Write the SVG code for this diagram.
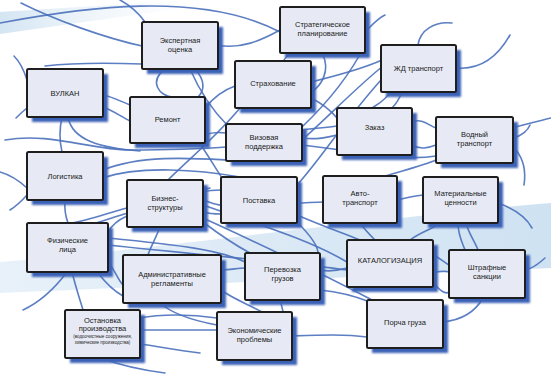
<svg xmlns="http://www.w3.org/2000/svg" width="551" height="374" viewBox="0 0 551 374">
<defs>
<linearGradient id="band" x1="0" y1="0" x2="1" y2="0">
<stop offset="0" stop-color="#e8f1f9"/>
<stop offset="1" stop-color="#cfe2f2"/>
</linearGradient>
<linearGradient id="band2" x1="0" y1="0" x2="1" y2="0">
<stop offset="0" stop-color="#d4e5f3"/>
<stop offset="1" stop-color="#ffffff" stop-opacity="0"/>
</linearGradient>
<filter id="sh" x="-10%" y="-10%" width="130%" height="130%"><feGaussianBlur stdDeviation="1.2"/></filter>
<style>
.c{fill:none;stroke:#4a70bb;stroke-width:1.6;stroke-linecap:round;opacity:0.9}
.s{fill:#3a62b6;filter:url(#sh)}
.b{fill:#e7eaf5;stroke:#1e1e1e;stroke-width:2}
.t{font-family:"Liberation Sans",Arial,sans-serif;font-size:7.5px;fill:#1a1a1a;text-anchor:middle}
.m{font-size:4.5px}
</style>
</defs>
<rect width="551" height="374" fill="#ffffff"/>
<path d="M0,12 L190,0 L240,0 L0,34 Z" fill="url(#band2)"/>
<path d="M0,262 C150,250 350,220 551,203 L551,268 C380,275 200,285 0,293 Z" fill="url(#band)"/>
<g id="connectors">
<path class="c" d="M21,3 C55,20 105,38 142,46"/>
<path class="c" d="M0,23 C80,8 200,-10 280,32"/>
<path class="c" d="M120,0 Q135,8 145,22"/>
<path class="c" d="M217,45 C240,50 262,40 280,30"/>
<path class="c" d="M45,66 C80,62 115,63 142,64"/>
<path class="c" d="M14,56 Q22,64 27,80"/>
<path class="c" d="M16,118 Q22,112 27,108"/>
<path class="c" d="M103,107 C112,110 120,116 130,121"/>
<path class="c" d="M130,105 C118,100 110,96 103,95"/>
<path class="c" d="M165,69 C148,82 160,96 172,97"/>
<path class="c" d="M195,69 C205,80 205,90 198,97"/>
<path class="c" d="M190,69 C200,92 214,112 228,126"/>
<path class="c" d="M235,86 Q218,92 205,108"/>
<path class="c" d="M284,60 C290,48 318,46 323,55 C330,70 322,86 311,92"/>
<path class="c" d="M311,82 C335,76 360,70 382,60"/>
<path class="c" d="M418,45 C420,30 435,21 452,23"/>
<path class="c" d="M456,68 C478,70 496,60 510,35"/>
<path class="c" d="M383,66 C358,86 330,115 302,140"/>
<path class="c" d="M365,32 C372,25 378,18 385,15"/>
<path class="c" d="M390,92 C386,100 378,104 372,108"/>
<path class="c" d="M402,92 Q398,102 392,108"/>
<path class="c" d="M365,45 C350,75 325,105 302,127"/>
<path class="c" d="M311,98 C325,105 332,112 337,118"/>
<path class="c" d="M513,138 C522,136 528,130 530,125"/>
<path class="c" d="M516,150 C524,160 526,172 524,185"/>
<path class="c" d="M412,122 C422,118 428,125 436,128"/>
<path class="c" d="M412,145 C420,150 428,148 436,145"/>
<path class="c" d="M385,176 C405,170 425,165 436,160"/>
<path class="c" d="M302,145 C350,150 400,162 436,156"/>
<path class="c" d="M397,200 C405,198 413,196 423,195"/>
<path class="c" d="M498,203 C512,208 525,215 532,228"/>
<path class="c" d="M458,223 C458,235 462,242 465,250"/>
<path class="c" d="M466,223 C468,232 475,242 478,250"/>
<path class="c" d="M525,270 C535,268 540,262 545,258"/>
<path class="c" d="M483,298 C475,312 462,320 443,322"/>
<path class="c" d="M433,255 C440,258 444,262 449,265"/>
<path class="c" d="M433,272 C440,272 444,270 449,272"/>
<path class="c" d="M433,283 C440,290 445,295 449,292"/>
<path class="c" d="M410,240 C420,232 435,228 440,223"/>
<path class="c" d="M360,223 C365,230 370,235 375,240"/>
<path class="c" d="M292,336 C320,335 345,334 367,337"/>
<path class="c" d="M140,330 C165,330 190,330 217,330"/>
<path class="c" d="M140,318 C160,314 190,314 217,318"/>
<path class="c" d="M127,342 C150,345 175,350 200,353"/>
<path class="c" d="M100,358 C120,365 140,370 165,373"/>
<path class="c" d="M62,117 Q58,135 62,152"/>
<path class="c" d="M5,140 C50,132 90,150 130,150 C170,150 200,149 226,147"/>
<path class="c" d="M68,117 C72,140 100,148 140,151"/>
<path class="c" d="M103,170 C140,155 190,158 226,160"/>
<path class="c" d="M103,178 C140,165 200,170 240,177"/>
<path class="c" d="M65,200 Q64,212 68,223"/>
<path class="c" d="M10,210 Q18,205 27,195"/>
<path class="c" d="M0,172 Q14,176 27,188"/>
<path class="c" d="M127,208 C108,213 88,220 72,223"/>
<path class="c" d="M127,216 C118,220 112,225 108,232"/>
<path class="c" d="M240,108 C215,138 188,160 168,180"/>
<path class="c" d="M160,227 C155,240 150,248 148,255"/>
<path class="c" d="M205,135 C212,132 218,132 226,133"/>
<path class="c" d="M302,130 C315,128 325,128 337,126"/>
<path class="c" d="M302,138 C315,140 325,138 337,135"/>
<path class="c" d="M203,192 C210,190 215,190 221,190"/>
<path class="c" d="M203,200 C210,202 215,205 221,205"/>
<path class="c" d="M203,212 C210,214 215,214 221,214"/>
<path class="c" d="M297,203 C305,203 315,202 323,202"/>
<path class="c" d="M297,185 C320,160 345,120 381,80"/>
<path class="c" d="M180,120 C200,140 210,160 222,178"/>
<path class="c" d="M203,205 C260,225 310,240 347,262"/>
<path class="c" d="M203,218 C240,235 300,262 372,300"/>
<path class="c" d="M203,222 C220,235 235,245 250,253"/>
<path class="c" d="M297,215 C320,225 340,232 360,240"/>
<path class="c" d="M297,222 C310,235 318,245 318,253"/>
<path class="c" d="M108,238 C180,245 220,250 245,262"/>
<path class="c" d="M108,245 C200,255 290,262 347,270"/>
<path class="c" d="M108,262 C115,270 118,280 123,285"/>
<path class="c" d="M67,272 C55,288 40,302 23,310"/>
<path class="c" d="M72,272 C76,288 80,300 83,310"/>
<path class="c" d="M98,273 C105,282 112,290 123,296"/>
<path class="c" d="M221,270 C230,270 238,268 245,268"/>
<path class="c" d="M221,290 C235,300 250,305 262,312"/>
<path class="c" d="M280,300 C283,310 285,320 287,330"/>
<path class="c" d="M320,270 C330,272 340,270 347,268"/>
<path class="c" d="M320,290 C340,292 355,296 370,302"/>
<path class="c" d="M160,303 C170,312 190,320 217,325"/>
<path class="c" d="M513,128 C525,124 540,121 551,118"/>
<path class="c" d="M90,225 C120,215 170,200 210,188"/>
</g>
<g id="n-ekspert"><rect class="s" x="147" y="27" width="76" height="47"/><rect class="b" x="142" y="22" width="76" height="47" rx="1.5"/><text class="t" x="180" y="43">Экспертная</text><text class="t" x="180" y="52">оценка</text></g>
<g id="n-strateg"><rect class="s" x="285" y="12" width="85" height="46"/><rect class="b" x="280" y="7" width="85" height="46" rx="1.5"/><text class="t" x="322.5" y="27">Стратегическое</text><text class="t" x="322.5" y="36">планирование</text></g>
<g id="n-zhd"><rect class="s" x="386" y="50" width="75" height="47"/><rect class="b" x="381" y="45" width="75" height="47" rx="1.5"/><text class="t" x="418.5" y="71">ЖД транспорт</text></g>
<g id="n-vulkan"><rect class="s" x="32" y="74" width="76" height="48"/><rect class="b" x="27" y="69" width="76" height="48" rx="1.5"/><text class="t" x="65" y="95.5">ВУЛКАН</text></g>
<g id="n-remont"><rect class="s" x="135" y="102" width="75" height="46"/><rect class="b" x="130" y="97" width="75" height="46" rx="1.5"/><text class="t" x="167.5" y="122">Ремонт</text></g>
<g id="n-strah"><rect class="s" x="240" y="66" width="76" height="47"/><rect class="b" x="235" y="61" width="76" height="47" rx="1.5"/><text class="t" x="273" y="86">Страхование</text></g>
<g id="n-viza"><rect class="s" x="231" y="129" width="76" height="37"/><rect class="b" x="226" y="124" width="76" height="37" rx="1.5"/><text class="t" x="264" y="140">Визовая</text><text class="t" x="264" y="149">поддержка</text></g>
<g id="n-zakaz"><rect class="s" x="342" y="113" width="75" height="47"/><rect class="b" x="337" y="108" width="75" height="47" rx="1.5"/><text class="t" x="374.5" y="130">Заказ</text></g>
<g id="n-vodn"><rect class="s" x="441" y="122" width="77" height="46"/><rect class="b" x="436" y="117" width="77" height="46" rx="1.5"/><text class="t" x="474.5" y="137">Водный</text><text class="t" x="474.5" y="146">транспорт</text></g>
<g id="n-logist"><rect class="s" x="32" y="157" width="76" height="48"/><rect class="b" x="27" y="152" width="76" height="48" rx="1.5"/><text class="t" x="65" y="178.5">Логистика</text></g>
<g id="n-biznes"><rect class="s" x="132" y="185" width="76" height="47"/><rect class="b" x="127" y="180" width="76" height="47" rx="1.5"/><text class="t" x="165" y="201">Бизнес-</text><text class="t" x="165" y="210">структуры</text></g>
<g id="n-postavka"><rect class="s" x="226" y="182" width="76" height="46"/><rect class="b" x="221" y="177" width="76" height="46" rx="1.5"/><text class="t" x="259" y="202.5">Поставка</text></g>
<g id="n-avto"><rect class="s" x="328" y="181" width="74" height="47"/><rect class="b" x="323" y="176" width="74" height="47" rx="1.5"/><text class="t" x="360" y="196">Авто-</text><text class="t" x="360" y="205">транспорт</text></g>
<g id="n-mater"><rect class="s" x="428" y="182" width="75" height="46"/><rect class="b" x="423" y="177" width="75" height="46" rx="1.5"/><text class="t" x="460.5" y="196">Материальные</text><text class="t" x="460.5" y="205">ценности</text></g>
<g id="n-fiz"><rect class="s" x="32" y="228" width="81" height="49"/><rect class="b" x="27" y="223" width="81" height="49" rx="1.5"/><text class="t" x="67.5" y="243">Физические</text><text class="t" x="67.5" y="252">лица</text></g>
<g id="n-admin"><rect class="s" x="128" y="260" width="98" height="48"/><rect class="b" x="123" y="255" width="98" height="48" rx="1.5"/><text class="t" x="172" y="277">Административные</text><text class="t" x="172" y="286">регламенты</text></g>
<g id="n-perevoz"><rect class="s" x="250" y="258" width="75" height="47"/><rect class="b" x="245" y="253" width="75" height="47" rx="1.5"/><text class="t" x="282.5" y="272">Перевозка</text><text class="t" x="282.5" y="281">грузов</text></g>
<g id="n-katalog"><rect class="s" x="352" y="245" width="86" height="47"/><rect class="b" x="347" y="240" width="86" height="47" rx="1.5"/><text class="t" x="390" y="263">КАТАЛОГИЗАЦИЯ</text></g>
<g id="n-shtraf"><rect class="s" x="454" y="255" width="76" height="48"/><rect class="b" x="449" y="250" width="76" height="48" rx="1.5"/><text class="t" x="487" y="270">Штрафные</text><text class="t" x="487" y="279">санкции</text></g>
<g id="n-porcha"><rect class="s" x="372" y="305" width="76" height="48"/><rect class="b" x="367" y="300" width="76" height="48" rx="1.5"/><text class="t" x="405" y="325">Порча груза</text></g>
<g id="n-econ"><rect class="s" x="222" y="317" width="75" height="48"/><rect class="b" x="217" y="312" width="75" height="48" rx="1.5"/><text class="t" x="254.5" y="333">Экономические</text><text class="t" x="254.5" y="342">проблемы</text></g>
<g id="n-ostanov"><rect class="s" x="70" y="315" width="75" height="48"/><rect class="b" x="65" y="310" width="75" height="48" rx="1.5"/><text class="t" x="102.5" y="323">Остановка</text><text class="t" x="102.5" y="331">производства</text><text class="t m" x="102.5" y="338">(водоочистные сооружения,</text><text class="t m" x="102.5" y="344">химические производства)</text></g>
</svg>
